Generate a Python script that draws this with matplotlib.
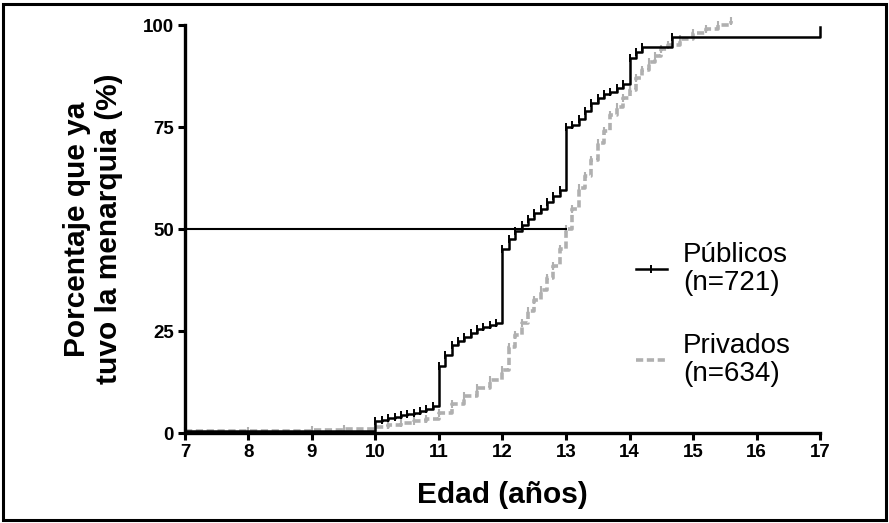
import numpy as np
import matplotlib
matplotlib.use('Agg')
import matplotlib.pyplot as plt
from matplotlib.lines import Line2D
from matplotlib.patches import Rectangle

plt.rcParams['font.family'] = ['Liberation Sans', 'DejaVu Sans']

# Publicos (n=721) - Kaplan-Meier style steps, % with menarche
pub_x = [7.0, 10.0, 10.1, 10.2, 10.3, 10.4, 10.5, 10.6, 10.7, 10.8, 10.9,
         11.0, 11.1, 11.2, 11.3, 11.4, 11.5, 11.6, 11.7, 11.8, 11.9,
         12.0, 12.1, 12.2, 12.3, 12.4, 12.5, 12.6, 12.7, 12.8, 12.9,
         13.0, 13.1, 13.2, 13.3, 13.4, 13.5, 13.6, 13.7, 13.8, 13.9,
         14.0, 14.1, 14.2, 14.67, 17.0]
pub_y = [0.5, 3.0, 3.3, 3.6, 4.0, 4.3, 4.6, 5.0, 5.4, 5.8, 6.5,
         16.5, 19.0, 21.5, 22.5, 23.5, 24.5, 25.5, 26.0, 26.5, 27.0,
         45.0, 47.5, 49.5, 51.0, 52.5, 54.0, 55.0, 56.5, 58.0, 59.5,
         75.0, 75.5, 77.0, 79.0, 81.0, 82.0, 83.0, 83.5, 84.5, 85.5,
         92.0, 93.5, 94.5, 97.0, 99.5]

# Privados (n=634)
pri_x = [7.0, 8.0, 9.0, 9.5, 10.0, 10.2, 10.4, 10.6, 10.8, 11.0, 11.2, 11.4,
         11.6, 11.8, 12.0, 12.1, 12.2, 12.3, 12.4, 12.5, 12.6, 12.7, 12.8,
         12.9, 13.0, 13.1, 13.2, 13.3, 13.4, 13.5, 13.6, 13.7, 13.8, 13.9,
         14.0, 14.1, 14.2, 14.3, 14.4, 14.5, 14.6, 14.8, 15.0, 15.2, 15.4, 15.6]
pri_y = [0.5, 0.6, 0.8, 1.0, 1.5, 2.0, 2.5, 3.0, 3.5, 5.0, 7.0, 9.0,
         11.0, 13.0, 15.5, 21.0, 24.0, 27.0, 30.0, 32.5, 35.0, 38.0, 41.0,
         45.0, 50.0, 55.0, 60.0, 63.0, 67.0, 71.0, 74.0, 78.0, 80.0, 82.0,
         84.0, 87.0, 89.0, 91.0, 92.5, 94.0, 95.0, 96.5, 98.0, 99.0, 100.0, 101.0]

median_age = 13.0
x_ticks = [7, 8, 9, 10, 11, 12, 13, 14, 15, 16, 17]
y_ticks = [0, 25, 50, 75, 100]

fig = plt.figure(figsize=(8.89, 5.23), dpi=100)
ax = fig.add_axes([185/889, 1-433/523, 635/889, 408/523])

gray = '#b0b0b0'
ax.plot(pri_x, pri_y, drawstyle='steps-post', color=gray, lw=2.6,
        dashes=(2.0, 1.0), clip_on=False, zorder=2)
ax.plot(pri_x, pri_y, ls='none', marker='|', ms=6, mew=1.5, color=gray,
        clip_on=False, zorder=2)

ax.plot(pub_x, pub_y, drawstyle='steps-post', color='black', lw=1.8,
        clip_on=False, zorder=3)
ax.plot(pub_x[1:-1], pub_y[1:-1], ls='none', marker='|', ms=6, mew=1.4,
        color='black', clip_on=False, zorder=3)

ax.plot([7, median_age], [50, 50], color='black', lw=1.5, zorder=3)

ax.set_xlim(7, 17)
ax.set_ylim(0, 100)
ax.set_xticks(x_ticks)
ax.set_yticks(y_ticks)
ax.tick_params(labelsize=13.5, width=2.2, length=5, pad=3, direction='out')
for lab in ax.get_xticklabels() + ax.get_yticklabels():
    lab.set_fontweight('bold')
for s in ['top', 'right']:
    ax.spines[s].set_visible(False)
for s in ['left', 'bottom']:
    ax.spines[s].set_linewidth(2.4)

ax.set_xlabel('Edad (años)', fontsize=21.5, fontweight='bold', labelpad=14)
ax.set_ylabel('Porcentaje que ya\ntuvo la menarquia (%)', fontsize=21.5,
              fontweight='bold', labelpad=14, linespacing=1.2)

handles = [
    Line2D([], [], color='black', lw=1.8, marker='|', ms=6, mew=1.4,
           markevery=[1], ),
    Line2D([], [], color=gray, lw=2.6, dashes=(2.0, 1.0)),
]
leg = ax.legend(handles, ['Públicos\n(n=721)', 'Privados\n(n=634)'],
                loc='upper left', bbox_to_anchor=(636/889, 1-242/523),
                bbox_transform=fig.transFigure, frameon=False, fontsize=20,
                handlelength=1.1, handletextpad=0.6, labelspacing=1.3,
                borderpad=0, borderaxespad=0)
for t in leg.get_texts():
    t.set_linespacing(1.12)

fig.patches.append(Rectangle((3/889, 3/523), 883/889, 516/523, fill=False,
                             lw=2.2, ec='black', transform=fig.transFigure))

fig.savefig('out.png', dpi=100)
